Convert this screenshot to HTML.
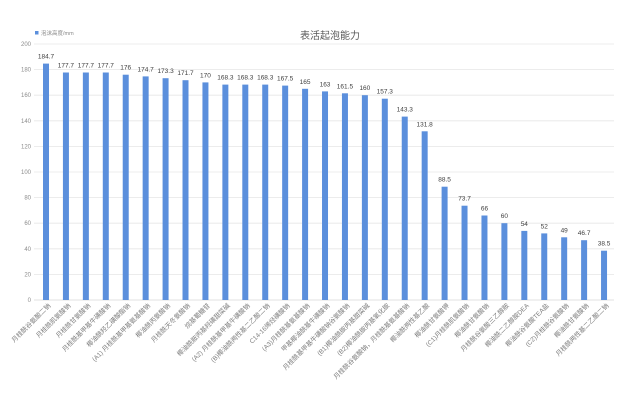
<!DOCTYPE html>
<html><head><meta charset="utf-8">
<style>
html,body{margin:0;padding:0;background:#fff;}
svg{display:block;}
text{font-family:"Liberation Sans","Noto Sans CJK SC",sans-serif;}
</style></head>
<body>
<svg width="638" height="400" viewBox="0 0 638 400" xmlns="http://www.w3.org/2000/svg">
<rect width="638" height="400" fill="#fff"/>
<!-- title -->
<text x="330" y="39" font-size="10" fill="#595959" text-anchor="middle">表活起泡能力</text>
<!-- legend -->
<rect x="35" y="31" width="3.5" height="3.5" fill="#5b8fdc"/>
<text x="41" y="35" font-size="5.5" fill="#8a8a8a">泡沫高度/mm</text>
<!-- grid -->
<g stroke="#e6e6e6" stroke-width="0.8">
<line x1="34" y1="44" x2="614" y2="44"/>
<line x1="34" y1="69.6" x2="614" y2="69.6"/>
<line x1="34" y1="95.2" x2="614" y2="95.2"/>
<line x1="34" y1="120.8" x2="614" y2="120.8"/>
<line x1="34" y1="146.4" x2="614" y2="146.4"/>
<line x1="34" y1="172" x2="614" y2="172"/>
<line x1="34" y1="197.6" x2="614" y2="197.6"/>
<line x1="34" y1="223.2" x2="614" y2="223.2"/>
<line x1="34" y1="248.8" x2="614" y2="248.8"/>
<line x1="34" y1="274.4" x2="614" y2="274.4"/>
</g>
<line x1="34" y1="300" x2="614" y2="300" stroke="#d9d9d9" stroke-width="0.8"/>
<!-- y ticks -->
<g font-size="6" fill="#8c8c8c" text-anchor="end">
<text x="31" y="46">200</text>
<text x="31" y="71.6">180</text>
<text x="31" y="97.2">160</text>
<text x="31" y="122.8">140</text>
<text x="31" y="148.4">120</text>
<text x="31" y="174">100</text>
<text x="31" y="199.6">80</text>
<text x="31" y="225.2">60</text>
<text x="31" y="250.8">40</text>
<text x="31" y="276.4">20</text>
<text x="31" y="302">0</text>
</g>
<!-- bars -->
<g fill="#5b8fdc">
<rect x="43" y="63.6" width="6" height="236.4"/>
<rect x="62.93" y="72.5" width="6" height="227.5"/>
<rect x="82.86" y="72.5" width="6" height="227.5"/>
<rect x="102.79" y="72.5" width="6" height="227.5"/>
<rect x="122.72" y="74.7" width="6" height="225.3"/>
<rect x="142.65" y="76.4" width="6" height="223.6"/>
<rect x="162.58" y="78.2" width="6" height="221.8"/>
<rect x="182.51" y="80.2" width="6" height="219.8"/>
<rect x="202.44" y="82.4" width="6" height="217.6"/>
<rect x="222.37" y="84.6" width="6" height="215.4"/>
<rect x="242.3" y="84.6" width="6" height="215.4"/>
<rect x="262.23" y="84.6" width="6" height="215.4"/>
<rect x="282.16" y="85.6" width="6" height="214.4"/>
<rect x="302.09" y="88.8" width="6" height="211.2"/>
<rect x="322.02" y="91.4" width="6" height="208.6"/>
<rect x="341.95" y="93.3" width="6" height="206.7"/>
<rect x="361.88" y="95.2" width="6" height="204.8"/>
<rect x="381.81" y="98.7" width="6" height="201.3"/>
<rect x="401.74" y="116.6" width="6" height="183.4"/>
<rect x="421.67" y="131.3" width="6" height="168.7"/>
<rect x="441.6" y="186.7" width="6" height="113.3"/>
<rect x="461.53" y="205.7" width="6" height="94.3"/>
<rect x="481.46" y="215.5" width="6" height="84.5"/>
<rect x="501.39" y="223.2" width="6" height="76.8"/>
<rect x="521.32" y="230.9" width="6" height="69.1"/>
<rect x="541.25" y="233.4" width="6" height="66.6"/>
<rect x="561.18" y="237.3" width="6" height="62.7"/>
<rect x="581.11" y="240.2" width="6" height="59.8"/>
<rect x="601.04" y="250.7" width="6" height="49.3"/>
</g>
<!-- value labels -->
<g font-size="6.5" fill="#404040" text-anchor="middle">
<text x="46" y="58.6">184.7</text>
<text x="65.93" y="67.5">177.7</text>
<text x="85.86" y="67.5">177.7</text>
<text x="105.79" y="67.5">177.7</text>
<text x="125.72" y="69.7">176</text>
<text x="145.65" y="71.4">174.7</text>
<text x="165.58" y="73.2">173.3</text>
<text x="185.51" y="75.2">171.7</text>
<text x="205.44" y="77.4">170</text>
<text x="225.37" y="79.6">168.3</text>
<text x="245.3" y="79.6">168.3</text>
<text x="265.23" y="79.6">168.3</text>
<text x="285.16" y="80.6">167.5</text>
<text x="305.09" y="83.8">165</text>
<text x="325.02" y="86.4">163</text>
<text x="344.95" y="88.3">161.5</text>
<text x="364.88" y="90.2">160</text>
<text x="384.81" y="93.7">157.3</text>
<text x="404.74" y="111.6">143.3</text>
<text x="424.67" y="126.3">131.8</text>
<text x="444.6" y="181.7">88.5</text>
<text x="464.53" y="200.7">73.7</text>
<text x="484.46" y="210.5">66</text>
<text x="504.39" y="218.2">60</text>
<text x="524.32" y="225.9">54</text>
<text x="544.25" y="228.4">52</text>
<text x="564.18" y="232.3">49</text>
<text x="584.11" y="235.2">46.7</text>
<text x="604.04" y="245.7">38.5</text>
</g>
<!-- x labels -->
<g font-size="6.5" fill="#7f7f7f" text-anchor="end">
<text transform="translate(51,306) rotate(-45)">月桂酰谷氨酸二钠</text>
<text transform="translate(70.93,306) rotate(-45)">月桂酰肌氨酸钠</text>
<text transform="translate(90.86,306) rotate(-45)">月桂酰甘氨酸钠</text>
<text transform="translate(110.79,306) rotate(-45)">月桂酰基甲基牛磺酸钠</text>
<text transform="translate(130.72,306) rotate(-45)">椰油酰羟乙磺酸酯钠</text>
<text transform="translate(150.65,306) rotate(-45)">(A1) 月桂酰基甲基氨基酸钠</text>
<text transform="translate(170.58,306) rotate(-45)">椰油酰丙氨酸钠</text>
<text transform="translate(190.51,306) rotate(-45)">月桂酰天冬氨酸钠</text>
<text transform="translate(210.44,306) rotate(-45)">烷基葡糖苷</text>
<text transform="translate(230.37,306) rotate(-45)">椰油酰胺丙基羟磺甜菜碱</text>
<text transform="translate(250.3,306) rotate(-45)">(A2) 月桂酰基甲基牛磺酸钠</text>
<text transform="translate(270.23,306) rotate(-45)">(B)椰油酰两性基二乙酸二钠</text>
<text transform="translate(290.16,306) rotate(-45)">C14-16烯烃磺酸钠</text>
<text transform="translate(310.09,306) rotate(-45)">(A3)月桂酰基氨基酸钠</text>
<text transform="translate(330.02,306) rotate(-45)">甲基椰油酰基牛磺酸钠</text>
<text transform="translate(349.95,306) rotate(-45)">月桂酰基甲基牛磺酸钠谷氨酸钠</text>
<text transform="translate(369.88,306) rotate(-45)">(B1)椰油酰胺丙基甜菜碱</text>
<text transform="translate(389.81,306) rotate(-45)">(B2)椰油酰胺丙基氧化胺</text>
<text transform="translate(409.74,306) rotate(-45)">月桂酰谷氨酸钠，月桂酰基氨基酸钠</text>
<text transform="translate(429.67,306) rotate(-45)">椰油酰两性基乙酸</text>
<text transform="translate(449.6,306) rotate(-45)">椰油酰甘氨酸钾</text>
<text transform="translate(469.53,306) rotate(-45)">(C1)月桂酰肌氨酸钠</text>
<text transform="translate(489.46,306) rotate(-45)">椰油酰甘氨酸钠</text>
<text transform="translate(509.39,306) rotate(-45)">月桂酰谷氨酸三乙醇胺</text>
<text transform="translate(529.32,306) rotate(-45)">椰油酰二乙醇胺DEA</text>
<text transform="translate(549.25,306) rotate(-45)">椰油酰谷氨酸TEA盐</text>
<text transform="translate(569.18,306) rotate(-45)">(C2)月桂酰谷氨酸钠</text>
<text transform="translate(589.11,306) rotate(-45)">椰油酰甘氨酸钠</text>
<text transform="translate(609.04,306) rotate(-45)">月桂酰两性基二乙酸二钠</text>
</g>
</svg>
</body></html>
